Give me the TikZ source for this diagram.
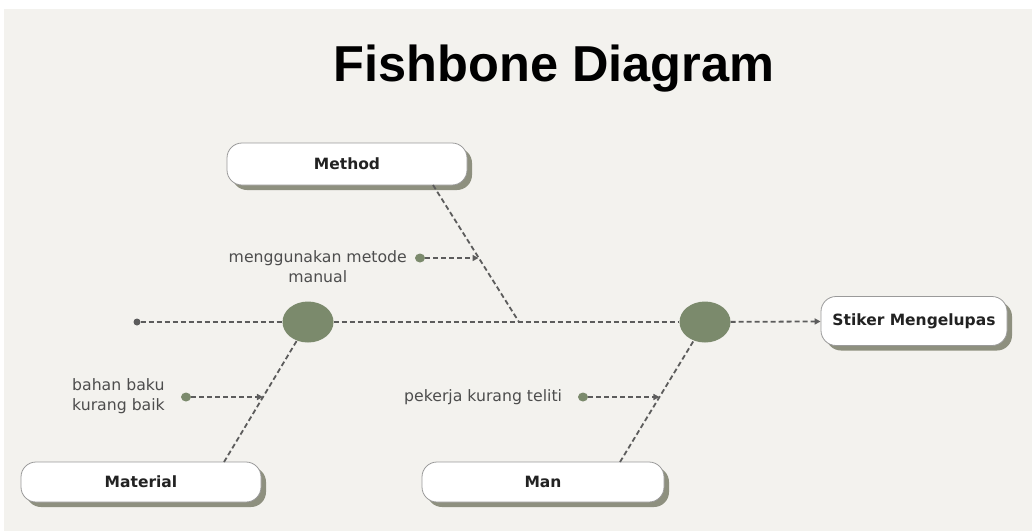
\documentclass[tikz,border=0pt]{standalone}
\usepackage{fontspec}
\setmainfont{DejaVu Sans}
\newfontfamily\titlefont{Liberation Sans}
\usetikzlibrary{arrows.meta,shapes.geometric,shadows,calc}
\definecolor{bgc}{HTML}{F3F2EE}
\definecolor{linec}{HTML}{5C5C5C}
\definecolor{greenc}{HTML}{7B8A6C}
\definecolor{shadc}{HTML}{8E907F}
\definecolor{borderc}{HTML}{9A9A9A}
\definecolor{labelc}{HTML}{4D4D4D}
\definecolor{boxtext}{HTML}{222222}
\tikzset{
  catbox/.style={draw=borderc, line width=0.8pt, fill=white, rounded corners=15pt,
    drop shadow={shadow xshift=5pt, shadow yshift=-5pt, fill=shadc, opacity=1},
    font=\fontsize{15.5}{18}\selectfont\bfseries, text=boxtext, inner sep=0pt},
  bone/.style={draw=linec, line width=1.8pt, dash pattern=on 5pt off 3pt},
  tipline/.style={bone, -{Triangle[length=6pt,width=6pt]}},
  hub/.style={ellipse, fill=greenc, minimum width=51pt, minimum height=41pt, inner sep=0pt},
  gdot/.style={ellipse, fill=greenc, minimum width=10pt, minimum height=9pt, inner sep=0pt},
  lbl/.style={font=\fontsize{15.7}{20}\selectfont, text=labelc, inner sep=0pt},
}
\begin{document}
\begin{tikzpicture}[x=1pt,y=-1pt]
\useasboundingbox (0,0) rectangle (1032,531);
\fill[white] (0,0) rectangle (1032,531);
\fill[bgc] (4,9) rectangle (1032,531);

\node[font=\titlefont\fontsize{50.5}{52}\selectfont\bfseries, text=black] (title) at (554,69) {Fishbone Diagram};

% category boxes
\node[catbox, minimum width=240pt, minimum height=42pt] (method) at (347,164) {Method};
\node[catbox, minimum width=240pt, minimum height=40pt] (material) at (141,482) {Material};
\node[catbox, minimum width=242pt, minimum height=40pt] (man) at (543,482) {Man};
\node[catbox, minimum width=186pt, minimum height=49pt] (effect) at (914,321) {Stiker Mengelupas};

% spine
\node[circle, fill=linec, minimum size=7pt, inner sep=0pt] (tail) at (137,322) {};
\node[hub] (c1) at (308,322) {};
\node[hub] (c2) at (705,322) {};
\draw[bone] (tail) -- (c1);
\draw[bone] (c1) -- (c2);
\draw[tipline] (c2) -- (effect);

% bones
\coordinate (mb) at (433,185);
\coordinate (mj) at (519,322);
\draw[bone] (mb) -- (mj);
\coordinate (matb) at (224,462);
\draw[bone] (matb) -- (c1);
\coordinate (manb) at (620,462);
\draw[bone] (manb) -- (c2);

% cause arrows
\coordinate (t1) at ($(mb)!0.529!(mj)$);
\coordinate (t2) at ($(matb)!0.464!(c1.center)$);
\coordinate (t3) at ($(manb)!0.464!(c2.center)$);
\node[gdot] (d1) at (420,258) {};
\node[gdot] (d2) at (186,397) {};
\node[gdot] (d3) at (583,397) {};
\draw[tipline] (d1) -- (d1 -| t1);
\draw[tipline] (d2) -- (d2 -| t2);
\draw[tipline] (d3) -- (d3 -| t3);

% labels
\node[lbl, align=center, anchor=east] (l1) at (407,267) {menggunakan metode\\manual};
\node[lbl, align=left, anchor=west] (l2) at (72,396) {bahan baku\\kurang baik};
\node[lbl, anchor=west] (l3) at (404,397) {pekerja kurang teliti};
\end{tikzpicture}
\end{document}
